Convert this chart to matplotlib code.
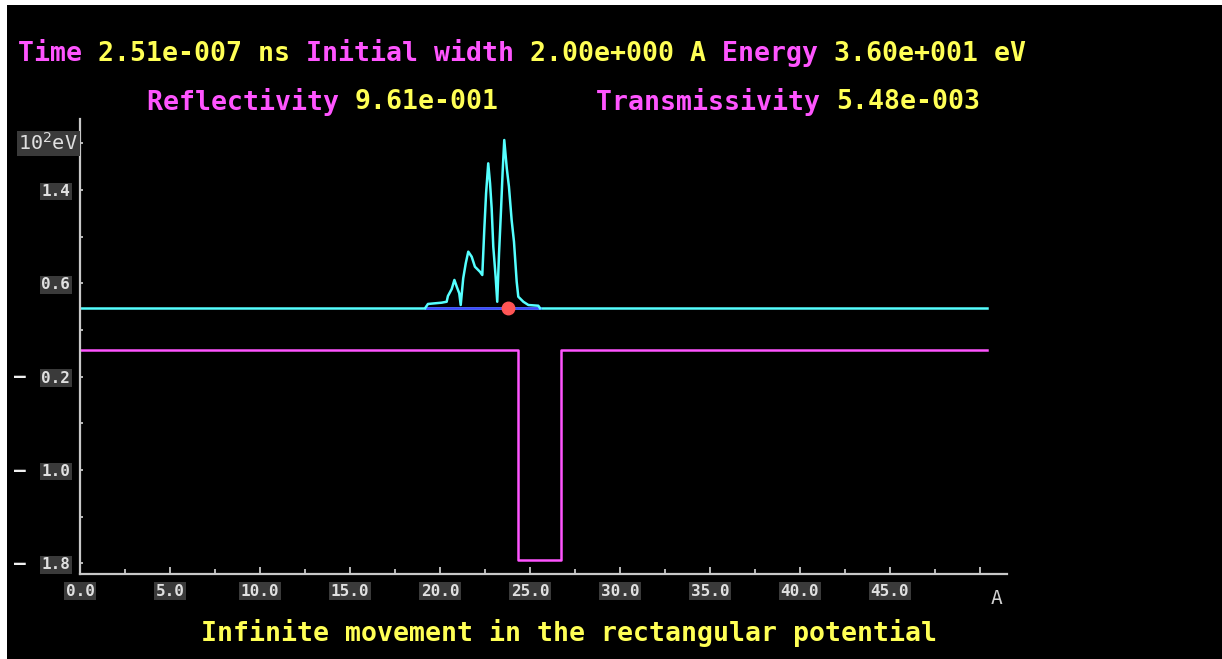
import numpy as np
import matplotlib.pyplot as plt
from matplotlib.patches import Rectangle
from matplotlib.transforms import blended_transform_factory

# wave packet |psi|^2 drawn on the energy level (10^2 eV)
wave_x = [19.17, 19.33, 20.09, 20.37, 20.44, 20.65, 20.80, 20.93, 21.07, 21.15,
          21.29, 21.43, 21.57, 21.76, 21.94, 22.22, 22.35, 22.46, 22.56, 22.68,
          22.78, 22.87, 22.96, 23.09, 23.18, 23.28, 23.39, 23.48, 23.57, 23.71,
          23.83, 23.98, 24.11, 24.26, 24.35, 24.63, 24.91, 25.46, 25.56]
wave_y = [0.386, 0.423, 0.434, 0.442, 0.491, 0.551, 0.629, 0.571, 0.514, 0.414,
          0.643, 0.771, 0.871, 0.828, 0.742, 0.699, 0.671, 1.057, 1.371, 1.628,
          1.457, 1.243, 0.914, 0.657, 0.442, 0.857, 1.228, 1.556, 1.828, 1.585,
          1.428, 1.142, 0.956, 0.614, 0.485, 0.442, 0.414, 0.408, 0.386]

energy = 0.386
x_end = 50.4
center_x = 23.8

# rectangular potential
pot_x = [0.0, 24.35, 24.35, 26.7, 26.7, 50.4]
pot_y = [0.03, 0.03, -1.77, -1.77, 0.03, 0.03]

xticks_major = [0, 5, 10, 15, 20, 25, 30, 35, 40, 45, 50]
xtick_labels = ['0.0', '5.0', '10.0', '15.0', '20.0', '25.0', '30.0', '35.0', '40.0', '45.0', '']
yticks = [1.8, 1.4, 1.0, 0.6, 0.2, -0.2, -0.6, -1.0, -1.4, -1.8]
ytick_labels = ['', '1.4', '', '0.6', '', '0.2', '', '1.0', '', '1.8']
neg_ticks = [-0.2, -1.0, -1.8]

pink = '#ff55ff'
yellow = '#ffff55'
cyan = '#55ffff'
grey = '#c8c8c8'
mono = 'DejaVu Sans Mono'

W, H = 1222, 659
fig = plt.figure(figsize=(W / 100, H / 100), dpi=100)
fig.patch.set_facecolor('white')
fig.patches.append(Rectangle((7 / W, 0), 1 - 7 / W, 1 - 5 / H, transform=fig.transFigure,
                             facecolor='black', edgecolor='none', zorder=-10))

ax = fig.add_axes([80 / W, 1 - 574 / H, 927 / W, 455 / H])
ax.set_facecolor('black')
ax.set_xlim(0, 51.5)
ax.set_ylim(-1.891, 2.008)

ax.plot([0, x_end], [energy, energy], color=cyan, lw=1.8, zorder=2)
ax.plot([wave_x[0], wave_x[-1]], [energy, energy], color='#4444ff', lw=1.8, zorder=3)
ax.plot(wave_x, wave_y, color=cyan, lw=1.8, zorder=4)
ax.plot(pot_x, pot_y, color=pink, lw=1.8, zorder=2)
ax.plot([center_x], [energy], 'o', color='#ff5555', markersize=9, zorder=5)

for s in ['top', 'right']:
    ax.spines[s].set_visible(False)
for s in ['left', 'bottom']:
    ax.spines[s].set_color(grey)
    ax.spines[s].set_linewidth(1.6)

lab_box = dict(boxstyle='square,pad=0.08', facecolor='#3a3a3a', edgecolor='none')

ax.set_xticks(xticks_major)
ax.set_xticks(np.arange(2.5, 50, 5), minor=True)
ax.set_xticklabels(xtick_labels, family=mono, fontsize=11.5, fontweight='bold',
                   color='#e0e0e0', bbox=lab_box)
ax.tick_params(axis='x', which='major', direction='in', length=5, width=1.3, color=grey, pad=7)
ax.tick_params(axis='x', which='minor', direction='in', length=3.5, width=1.3, color=grey)

ax.set_yticks(yticks)
ax.set_yticklabels(ytick_labels, family=mono, fontsize=11.5, fontweight='bold',
                   color='#e0e0e0', bbox=lab_box)
ax.tick_params(axis='y', direction='in', length=2.5, width=1.3, color=grey, pad=7)

ytr = blended_transform_factory(fig.transFigure, ax.transData)
for v in neg_ticks:
    fig.text(20 / W, v, '\u2014', transform=ytr, color='#f0f0f0', fontsize=14,
             fontweight='bold', family=mono, ha='center', va='center')
fig.text(78 / W, 1.8, '10$^2$eV', transform=ytr, color='#e0e0e0', fontsize=14.5,
         family=mono, ha='right', va='center', bbox=lab_box)
fig.text(997 / W, 1 - 598 / H, 'A', color='#d0d0d0', fontsize=14, family=mono,
         ha='center', va='center')

# header lines: alternating pink labels and yellow values
charw = 16.0
def draw_segments(x0, ypix, segs, fs=19.1):
    n = 0
    for txt, col in segs:
        fig.text((x0 + n * charw) / W, 1 - ypix / H, txt, color=col, family=mono,
                 fontsize=fs, fontweight='bold', ha='left', va='center')
        n += len(txt)

draw_segments(18, 54, [('Time ', pink), ('2.51e-007 ns ', yellow),
                       ('Initial width ', pink), ('2.00e+000 A ', yellow),
                       ('Energy ', pink), ('3.60e+001 eV', yellow)])
draw_segments(147, 102, [('Reflectivity ', pink), ('9.61e-001', yellow)])
draw_segments(596, 102, [('Transmissivity ', pink), ('5.48e-003', yellow)])
draw_segments(201, 633, [('Infinite movement in the rectangular potential', yellow)])

fig.savefig('out.png', dpi=100)
